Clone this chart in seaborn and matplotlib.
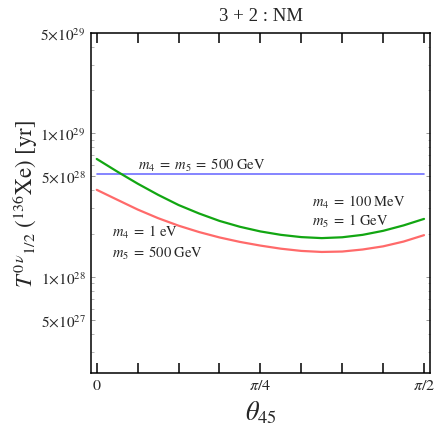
import numpy as np
import pandas as pd
import seaborn as sns
import matplotlib.pyplot as plt
from matplotlib.ticker import FixedLocator, NullFormatter

# theta_45 sampled every pi/32 from 0 to pi/2
theta = [k * np.pi / 32 for k in range(17)]

# half-life in years
t_heavy = [5.16e28] * 17   # m4 = m5 = 500 GeV
t_mev = [6.61e28, 5.40e28, 4.45e28, 3.72e28, 3.16e28, 2.76e28, 2.45e28, 2.23e28, 2.07e28,
         1.96e28, 1.89e28, 1.86e28, 1.885e28, 1.96e28, 2.09e28, 2.28e28, 2.53e28]   # m4 = 100 MeV, m5 = 1 GeV
t_ev = [4.03e28, 3.44e28, 2.94e28, 2.56e28, 2.27e28, 2.05e28, 1.88e28, 1.75e28, 1.65e28,
        1.57e28, 1.515e28, 1.49e28, 1.50e28, 1.55e28, 1.63e28, 1.76e28, 1.95e28]   # m4 = 1 eV, m5 = 500 GeV

ytick_vals = [5e27, 1e28, 5e28, 1e29, 5e29]
ytick_labels = [r"$5{\times}10^{27}$", r"$1{\times}10^{28}$", r"$5{\times}10^{28}$",
                r"$1{\times}10^{29}$", r"$5{\times}10^{29}$"]
xtick_labels = [r"$0$", "", "", "", r"$\pi/4$", "", "", "", r"$\pi/2$"]

df = pd.DataFrame({"theta": theta, "heavy": t_heavy, "mev": t_mev, "ev": t_ev})

sns.set_style("white")
plt.rcParams["font.family"] = ["Liberation Serif", "DejaVu Serif"]
plt.rcParams["mathtext.fontset"] = "stix"

fig, ax = plt.subplots(figsize=(4.36, 4.31), dpi=100)
fig.subplots_adjust(left=0.209, right=0.986, top=0.922, bottom=0.132)

sns.lineplot(data=df, x="theta", y="heavy", color="#7070ff", linewidth=1.2, ax=ax)
sns.lineplot(data=df, x="theta", y="mev", color="#12a612", linewidth=1.6, ax=ax)
sns.lineplot(data=df, x="theta", y="ev", color="#ff6a6a", linewidth=1.6, ax=ax)

ax.set_yscale("log")
ax.set_xlim(-0.027, 1.599)
ax.set_ylim(2.14e27, 5e29)

# x ticks every pi/16, labels only at 0, pi/4, pi/2
ax.set_xticks([k * np.pi / 16 for k in range(9)])
ax.set_xticklabels(xtick_labels, fontsize=11.5)
ax.tick_params(axis="x", direction="in", length=7, width=1.1, color="black",
               top=True, bottom=True, pad=3)

# log y ticks
ax.yaxis.set_major_locator(FixedLocator(ytick_vals))
ax.set_yticklabels(ytick_labels, fontsize=11)
minor = [m * 10.0 ** e for e in (27, 28, 29) for m in (2, 3, 4, 6, 7, 8, 9)]
minor = [v for v in minor if 2.14e27 <= v <= 5e29]
ax.yaxis.set_minor_locator(FixedLocator(minor))
ax.yaxis.set_minor_formatter(NullFormatter())
ax.tick_params(axis="y", which="major", direction="in", length=3, width=0.7,
               color="#999999", left=True, right=True, pad=4)
ax.tick_params(axis="y", which="minor", direction="in", length=1.8, width=0.6,
               color="#aaaaaa", left=True, right=True)

for s in ax.spines.values():
    s.set_visible(True)
    s.set_color("black")
    s.set_linewidth(1.1)

ax.set_title("3 + 2 : NM", fontsize=13.5, pad=9)
ax.set_xlabel(r"$\theta_{45}$", fontsize=19, labelpad=4)
ax.set_ylabel(r"$T^{0\,\nu}{}_{1/2}\ (^{136}\mathrm{Xe})\ [\mathrm{yr}]$", fontsize=16.5, labelpad=0)

# curve annotations
lbl = dict(fontsize=10.5, ha="left", va="center")
ax.text(0.196, 6.1e28, r"$m_4\;=\;m_5\;=\;500\ \mathrm{GeV}$", **lbl)
ax.text(1.034, 3.33e28, r"$m_4\;=\;100\ \mathrm{MeV}$", **lbl)
ax.text(1.034, 2.46e28, r"$m_5\;=\;1\ \mathrm{GeV}$", **lbl)
ax.text(0.072, 2.06e28, r"$m_4\;=\;1\ \mathrm{eV}$", **lbl)
ax.text(0.072, 1.48e28, r"$m_5\;=\;500\ \mathrm{GeV}$", **lbl)

plt.savefig("out.png", dpi=100)
